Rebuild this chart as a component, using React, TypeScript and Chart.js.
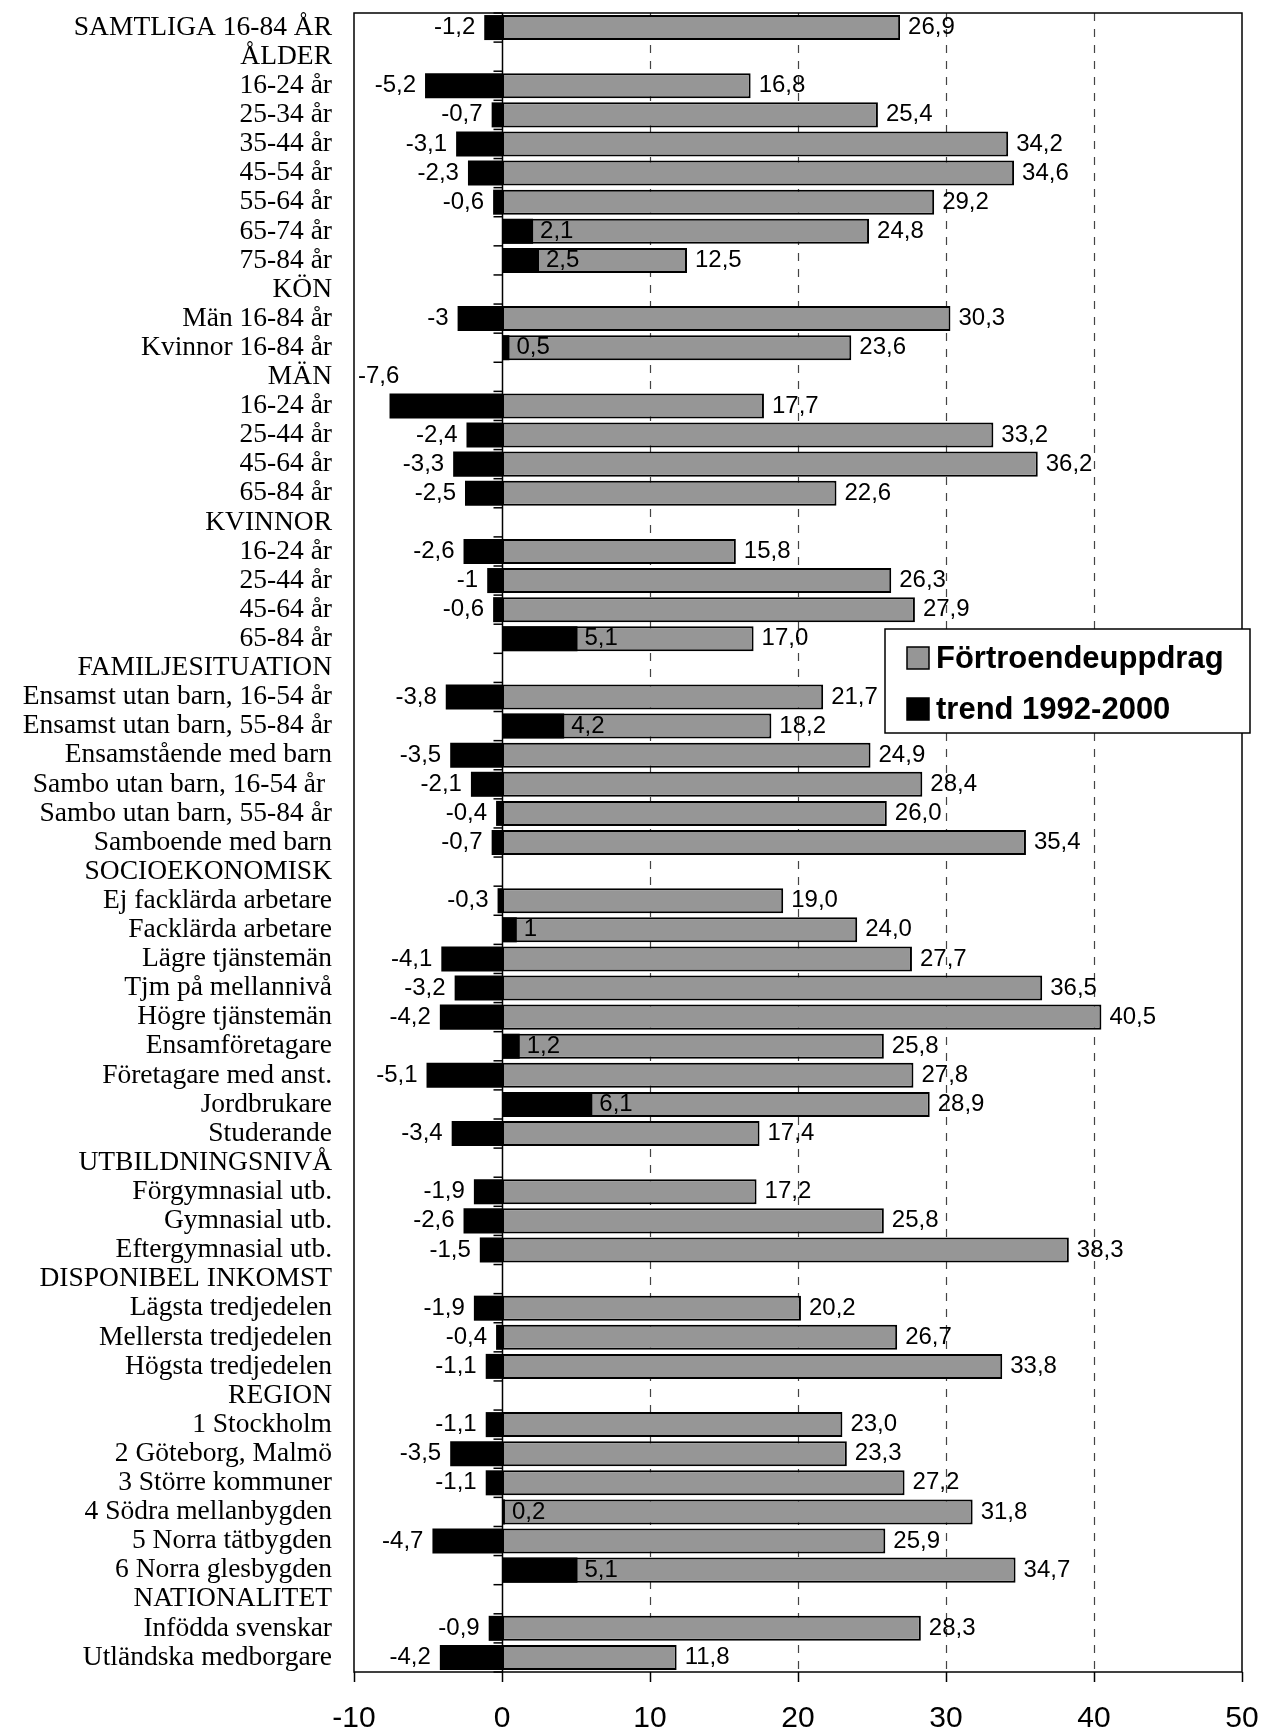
import React, { useEffect, useRef } from 'react';
import { Chart, registerables } from 'chart.js';

Chart.register(...registerables);

const categories = [
  'SAMTLIGA 16-84 ÅR', 'ÅLDER', '16-24 år', '25-34 år', '35-44 år', '45-54 år', '55-64 år', '65-74 år', '75-84 år',
  'KÖN', 'Män 16-84 år', 'Kvinnor 16-84 år',
  'MÄN', '16-24 år', '25-44 år', '45-64 år', '65-84 år',
  'KVINNOR', '16-24 år', '25-44 år', '45-64 år', '65-84 år',
  'FAMILJESITUATION', 'Ensamst utan barn, 16-54 år', 'Ensamst utan barn, 55-84 år', 'Ensamstående med barn',
  'Sambo utan barn, 16-54 år ', 'Sambo utan barn, 55-84 år', 'Samboende med barn',
  'SOCIOEKONOMISK', 'Ej facklärda arbetare', 'Facklärda arbetare', 'Lägre tjänstemän', 'Tjm på mellannivå',
  'Högre tjänstemän', 'Ensamföretagare', 'Företagare med anst.', 'Jordbrukare', 'Studerande',
  'UTBILDNINGSNIVÅ', 'Förgymnasial utb.', 'Gymnasial utb.', 'Eftergymnasial utb.',
  'DISPONIBEL INKOMST', 'Lägsta tredjedelen', 'Mellersta tredjedelen', 'Högsta tredjedelen',
  'REGION', '1 Stockholm', '2 Göteborg, Malmö', '3 Större kommuner', '4 Södra mellanbygden',
  '5 Norra tätbygden', '6 Norra glesbygden',
  'NATIONALITET', 'Infödda svenskar', 'Utländska medborgare',
];

const fortroende: (number | null)[] = [
  26.9, null, 16.8, 25.4, 34.2, 34.6, 29.2, 24.8, 12.5,
  null, 30.3, 23.6,
  null, 17.7, 33.2, 36.2, 22.6,
  null, 15.8, 26.3, 27.9, 17.0,
  null, 21.7, 18.2, 24.9, 28.4, 26.0, 35.4,
  null, 19.0, 24.0, 27.7, 36.5, 40.5, 25.8, 27.8, 28.9, 17.4,
  null, 17.2, 25.8, 38.3,
  null, 20.2, 26.7, 33.8,
  null, 23.0, 23.3, 27.2, 31.8, 25.9, 34.7,
  null, 28.3, 11.8,
];

const trend: (number | null)[] = [
  -1.2, null, -5.2, -0.7, -3.1, -2.3, -0.6, 2.1, 2.5,
  null, -3, 0.5,
  null, -7.6, -2.4, -3.3, -2.5,
  null, -2.6, -1, -0.6, 5.1,
  null, -3.8, 4.2, -3.5, -2.1, -0.4, -0.7,
  null, -0.3, 1, -4.1, -3.2, -4.2, 1.2, -5.1, 6.1, -3.4,
  null, -1.9, -2.6, -1.5,
  null, -1.9, -0.4, -1.1,
  null, -1.1, -3.5, -1.1, 0.2, -4.7, 5.1,
  null, -0.9, -4.2,
];

const xTicks = [-10, 0, 10, 20, 30, 40, 50];
const seriesNames = ['Förtroendeuppdrag', 'trend 1992-2000'];
const seriesColors = ['#969696', '#000000'];

const SANS = '"Liberation Sans", Arial, sans-serif';
const SERIF = '"Liberation Serif", "Times New Roman", serif';

const fmtOne = (v: number) => v.toFixed(1).replace('.', ',');
const fmtGen = (v: number) => String(v).replace('.', ',');

const framePlugin = {
  id: 'frame',
  beforeDatasetsDraw(chart: any) {
    const { ctx, chartArea, scales } = chart;
    const { left, right, top, bottom } = chartArea;
    const x = scales.x;
    const y = scales.y;
    ctx.save();
    ctx.strokeStyle = '#444';
    ctx.lineWidth = 1.2;
    ctx.setLineDash([8, 8]);
    xTicks.forEach((v) => {
      if (v > x.min && v < x.max && v !== 0) {
        const px = Math.round(x.getPixelForValue(v)) + 0.5;
        ctx.beginPath();
        ctx.moveTo(px, top);
        ctx.lineTo(px, bottom);
        ctx.stroke();
      }
    });
    ctx.setLineDash([]);
    ctx.strokeStyle = '#000';
    ctx.lineWidth = 1.5;
    ctx.strokeRect(left, top, right - left, bottom - top);
    xTicks.forEach((v) => {
      const px = Math.round(x.getPixelForValue(v)) + 0.5;
      ctx.beginPath();
      ctx.moveTo(px, bottom);
      ctx.lineTo(px, bottom + 10);
      ctx.stroke();
    });
    const zx = Math.round(x.getPixelForValue(0)) + 0.5;
    ctx.beginPath();
    ctx.moveTo(zx, top);
    ctx.lineTo(zx, bottom);
    ctx.stroke();
    const n = categories.length;
    for (let i = 0; i <= n; i++) {
      let yb: number;
      if (i === 0) yb = top;
      else if (i === n) yb = bottom;
      else yb = (y.getPixelForValue(i - 1) + y.getPixelForValue(i)) / 2;
      ctx.beginPath();
      ctx.moveTo(zx - 9, yb);
      ctx.lineTo(zx, yb);
      ctx.stroke();
    }
    ctx.restore();
  },
  afterDatasetsDraw(chart: any) {
    const { ctx, chartArea, scales } = chart;
    const y = scales.y;
    const rowH = Math.abs(y.getPixelForValue(1) - y.getPixelForValue(0));
    ctx.save();
    ctx.font = `24px ${SANS}`;
    ctx.fillStyle = '#000';
    ctx.textBaseline = 'middle';
    chart.data.datasets.forEach((ds: any, di: number) => {
      const meta = chart.getDatasetMeta(di);
      meta.data.forEach((el: any, i: number) => {
        const v = ds.data[i];
        if (v === null || v === undefined) return;
        const ty = el.y;
        if (di === 0) {
          ctx.textAlign = 'left';
          ctx.fillText(fmtOne(v), el.x + 8, ty);
        } else {
          const txt = fmtGen(v);
          if (v < 0) {
            const w = ctx.measureText(txt).width;
            if (el.x - 9 - w < chartArea.left) {
              ctx.textAlign = 'left';
              ctx.fillText(txt, chartArea.left + 4, ty - rowH);
            } else {
              ctx.textAlign = 'right';
              ctx.fillText(txt, el.x - 9, ty);
            }
          } else {
            ctx.textAlign = 'left';
            ctx.fillText(txt, el.x + 7, ty);
          }
        }
      });
    });
    ctx.restore();
  },
  afterDraw(chart: any) {
    const { ctx, chartArea } = chart;
    const bx = chartArea.right - 357;
    const by = chartArea.top + 616;
    const bw = 365;
    const bh = 104;
    ctx.save();
    ctx.fillStyle = '#fff';
    ctx.fillRect(bx, by, bw, bh);
    ctx.strokeStyle = '#000';
    ctx.lineWidth = 1.5;
    ctx.strokeRect(bx, by, bw, bh);
    ctx.font = `bold 31px ${SANS}`;
    ctx.textBaseline = 'middle';
    ctx.textAlign = 'left';
    seriesNames.forEach((name, i) => {
      const cy = by + 29 + i * 51;
      ctx.fillStyle = seriesColors[i];
      ctx.fillRect(bx + 22, cy - 11, 22, 22);
      ctx.strokeStyle = '#000';
      ctx.lineWidth = 1.5;
      ctx.strokeRect(bx + 22, cy - 11, 22, 22);
      ctx.fillStyle = '#000';
      ctx.fillText(name, bx + 51, cy + 1);
    });
    ctx.restore();
  },
};

export default function App() {
  const ref = useRef<HTMLCanvasElement>(null);
  useEffect(() => {
    document.body.style.margin = '0';
    const canvas = ref.current;
    if (!canvas) return;
    const chart = new Chart(canvas, {
      type: 'bar',
      data: {
        labels: categories,
        datasets: [
          {
            label: seriesNames[0],
            data: fortroende,
            backgroundColor: seriesColors[0],
            borderColor: '#000',
            borderWidth: 2,
            borderSkipped: false,
            grouped: false,
            order: 2,
            barPercentage: 0.86,
            categoryPercentage: 1,
          } as any,
          {
            label: seriesNames[1],
            data: trend,
            backgroundColor: seriesColors[1],
            borderWidth: 0,
            grouped: false,
            order: 1,
            barPercentage: 0.86,
            categoryPercentage: 1,
          } as any,
        ],
      },
      options: {
        indexAxis: 'y',
        animation: false,
        responsive: false,
        events: [],
        layout: { padding: { top: 13, right: 21, left: 0, bottom: 0 } },
        plugins: { legend: { display: false }, tooltip: { enabled: false } },
        scales: {
          x: {
            type: 'linear',
            min: -10,
            max: 50,
            grid: { display: false, drawTicks: false },
            border: { display: false },
            ticks: {
              stepSize: 10,
              color: '#000',
              padding: 29,
              font: { family: SANS, size: 30 },
            },
            afterFit: (s: any) => {
              s.height = 58;
              s.paddingLeft = 0;
              s.paddingRight = 0;
            },
          },
          y: {
            type: 'category',
            grid: { display: false, drawTicks: false },
            border: { display: false },
            ticks: {
              autoSkip: false,
              color: '#000',
              padding: 22,
              font: { family: SERIF, size: 27.5, lineHeight: 1 },
            },
            afterFit: (s: any) => {
              s.width = 354;
              s.paddingTop = 0;
              s.paddingBottom = 0;
            },
          },
        },
      } as any,
      plugins: [framePlugin],
    });
    return () => chart.destroy();
  }, []);
  return <canvas ref={ref} width={1263} height={1730} style={{ display: 'block' }} />;
}
